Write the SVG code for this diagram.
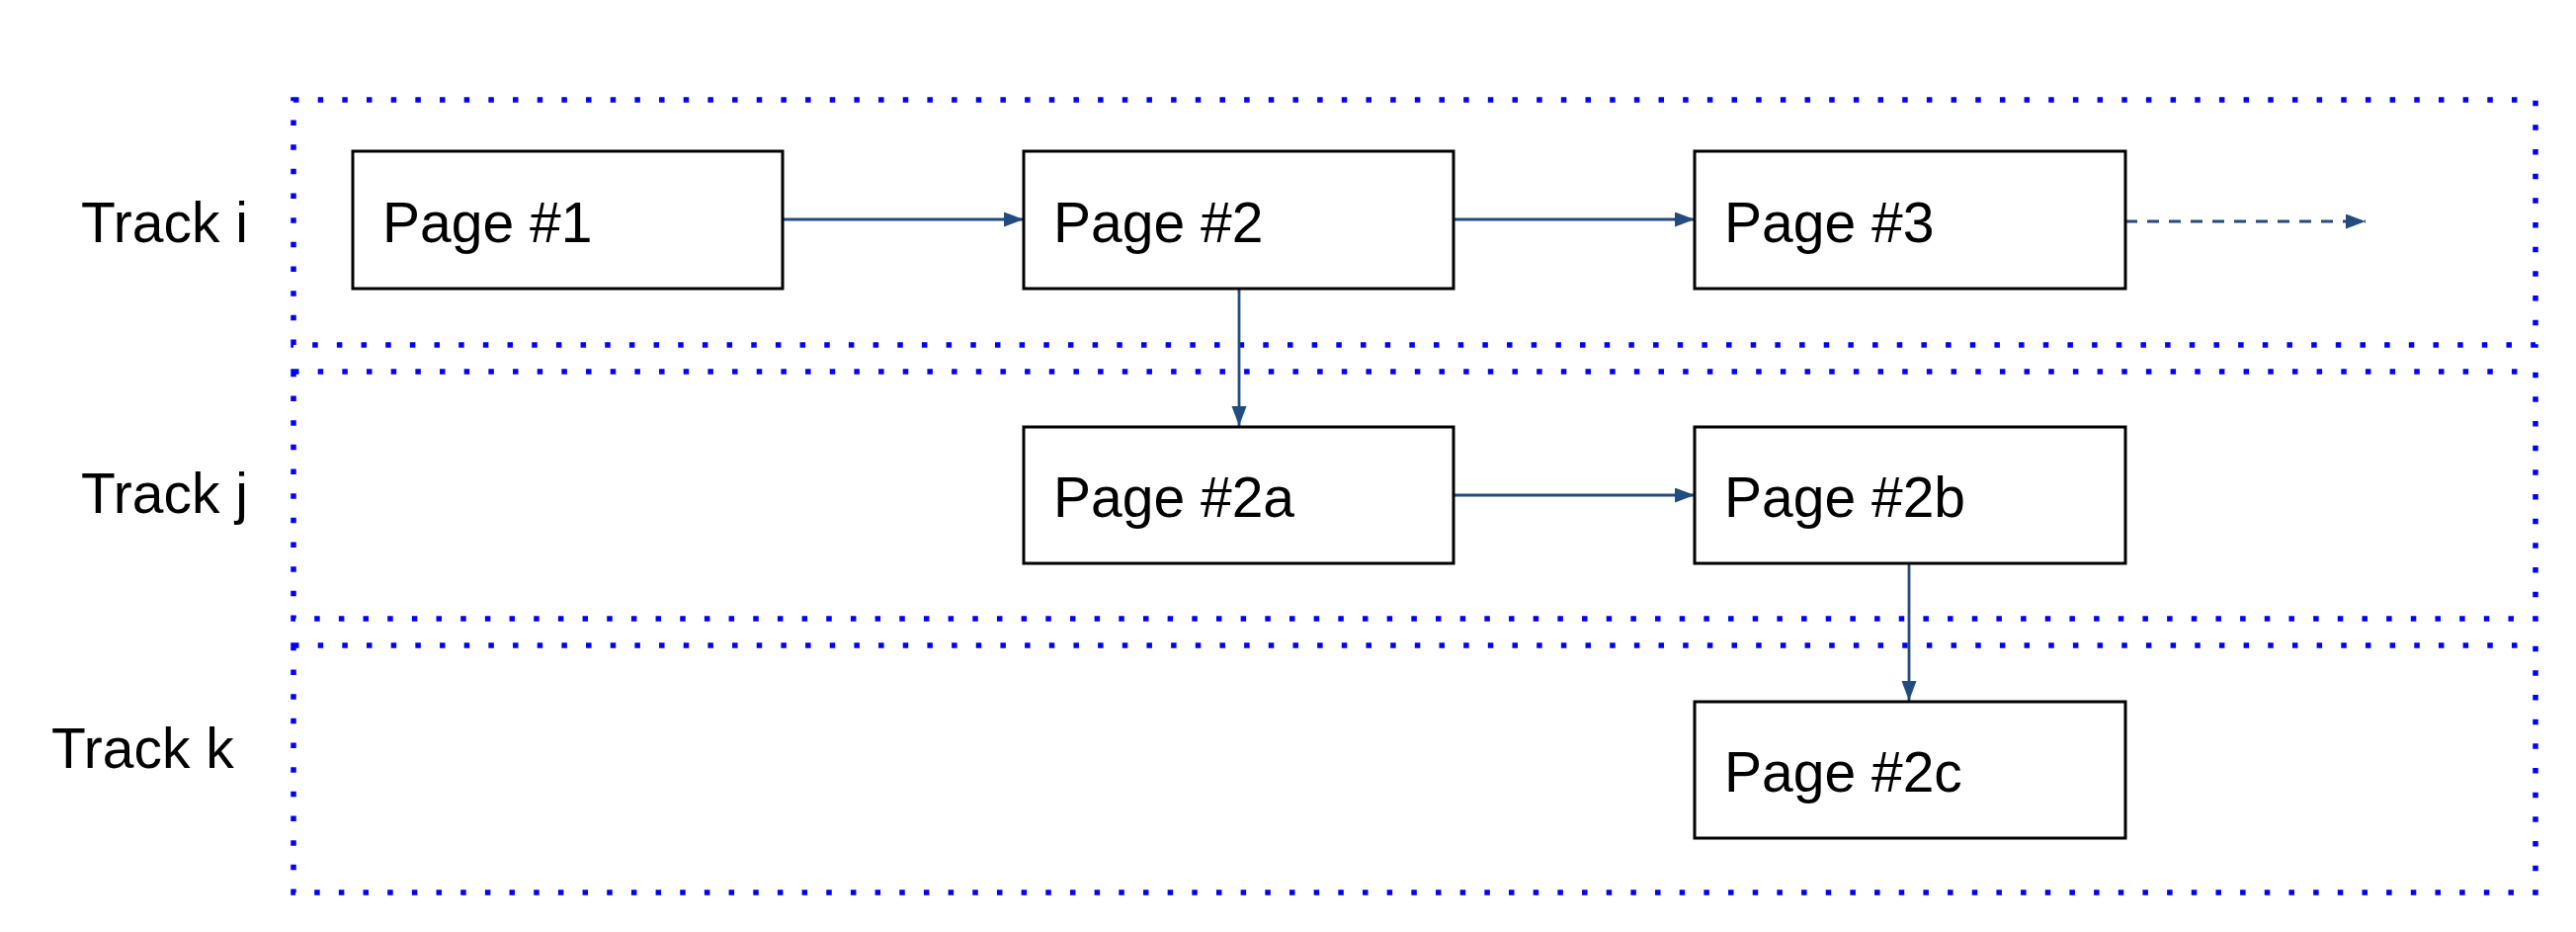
<svg xmlns="http://www.w3.org/2000/svg" width="2607" height="943" viewBox="0 0 2607 943">
  <style>
    .track { fill: none; stroke: #0000ff; stroke-width: 5.5; stroke-dasharray: 5.5 19.17; }
    .page rect { fill: #ffffff; stroke: #000000; stroke-width: 3; }
    .label { font-family: "Liberation Sans", Arial, sans-serif; font-size: 57px; fill: #000000; }
    .link { fill: none; stroke: #224c7f; stroke-width: 2.8; }
    .dashed { stroke-dasharray: 12 10; }
  </style>
  <defs>
    <marker id="arrow" markerUnits="userSpaceOnUse" markerWidth="22" markerHeight="16" refX="20" refY="7.5" orient="auto">
      <path d="M0,0 L20,7.5 L0,15 Z" fill="#224c7f"/>
    </marker>
  </defs>

  <!-- track bands -->
  <g id="tracks">
    <g id="track-i">
      <rect class="track" x="297" y="101" width="2269" height="248"/>
      <text class="label" x="82" y="245">Track i</text>
    </g>
    <g id="track-j">
      <rect class="track" x="297" y="376" width="2269" height="250"/>
      <text class="label" x="82" y="519">Track j</text>
    </g>
    <g id="track-k">
      <rect class="track" x="297" y="653" width="2269" height="250"/>
      <text class="label" x="52" y="777">Track k</text>
    </g>
  </g>

  <!-- connectors -->
  <g id="connectors">
    <line class="link" x1="792" y1="222" x2="1036" y2="222" marker-end="url(#arrow)"/>
    <line class="link" x1="1471" y1="222" x2="1715" y2="222" marker-end="url(#arrow)"/>
    <line class="link dashed" x1="2151" y1="224" x2="2394" y2="224" marker-end="url(#arrow)"/>
    <line class="link" x1="1254" y1="292" x2="1254" y2="431" marker-end="url(#arrow)"/>
    <line class="link" x1="1471" y1="501" x2="1715" y2="501" marker-end="url(#arrow)"/>
    <line class="link" x1="1932" y1="570" x2="1932" y2="709" marker-end="url(#arrow)"/>
  </g>

  <!-- pages -->
  <g id="page-1" class="page">
    <rect x="357" y="153" width="435" height="139"/>
    <text class="label" x="387" y="245">Page #1</text>
  </g>
  <g id="page-2" class="page">
    <rect x="1036" y="153" width="435" height="139"/>
    <text class="label" x="1066" y="245">Page #2</text>
  </g>
  <g id="page-3" class="page">
    <rect x="1715" y="153" width="436" height="139"/>
    <text class="label" x="1745" y="245">Page #3</text>
  </g>
  <g id="page-2a" class="page">
    <rect x="1036" y="432" width="435" height="138"/>
    <text class="label" x="1066" y="523">Page #2a</text>
  </g>
  <g id="page-2b" class="page">
    <rect x="1715" y="432" width="436" height="138"/>
    <text class="label" x="1745" y="523">Page #2b</text>
  </g>
  <g id="page-2c" class="page">
    <rect x="1715" y="710" width="436" height="138"/>
    <text class="label" x="1745" y="801">Page #2c</text>
  </g>
</svg>
